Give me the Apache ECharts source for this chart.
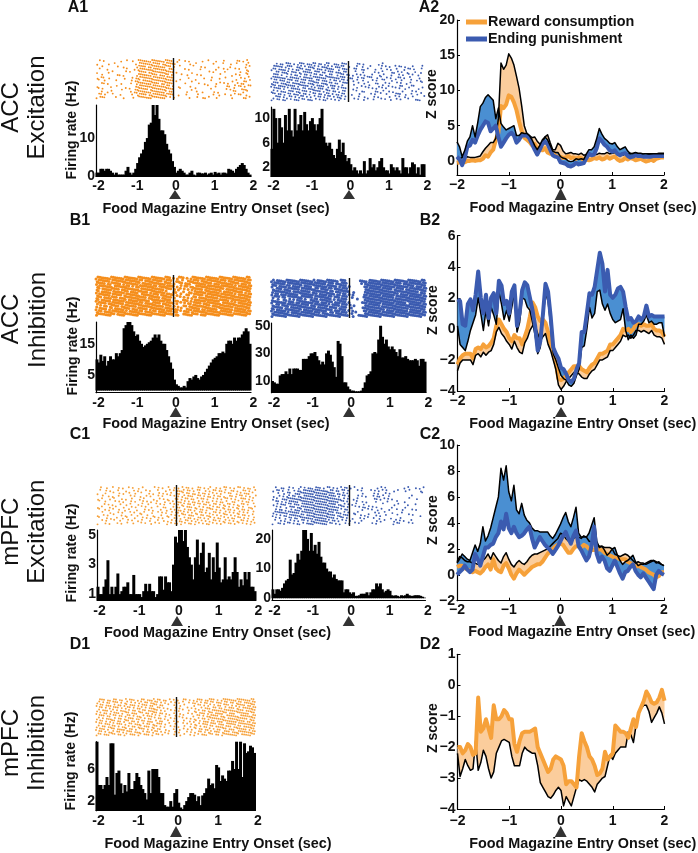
<!DOCTYPE html>
<html><head><meta charset="utf-8">
<style>html,body{margin:0;padding:0;background:#fff}#c{width:698px;height:853px}</style>
<script src="https://cdn.jsdelivr.net/npm/echarts@6/dist/echarts.min.js"></script>
</head><body><div id="c"></div>
<script>
// ---------- histogram values (Hz per 50 ms bin, -2 s to 2 s) ----------
const histA1L=[1,1,2,2,1.5,2,2,1.5,1,.5,1,.5,.5,.5,.5,1.5,2.5,1,.5,1,2,3.5,5,6,7,9,10,13.5,14,19,16,19,15,12,12,11,8.5,7,6,4,2.5,1,1.5,2,1.5,1,.5,.5,1,1.5,.5,.3,1,1,.8,.8,1,.5,.8,1,.5,1.2,.8,1,.5,1,1,.8,2,1.8,1.5,1,2,2.5,3,3.5,3,2,1,.5];
const histA1R=[5,11.5,10,6,10,8.5,6,10.5,8,11.5,8,7,11.5,8,9,10.5,8,11,9,8,9.5,10,9,8,9,10,11.5,7,6,5.5,6,5,4,3.5,5,6.5,4.5,6,4,3,3.5,2.5,1.5,2,1.5,1,1.5,1,3,1,1.5,3.5,2,2.5,1.5,2,3,3.5,2,1.5,1.5,1,2.5,2,1.5,2,1.5,1,3.5,2,2,1,2,2.8,2.5,1,2,.8,2.5,2.5];
const histB1L=[10,9,11.5,9.5,11,8,9.5,11,10,10,12,11,12,13,20,21,22,22,21,19,17.5,18,16,15,14,14.5,15,15.5,16,17,18,17,18,16,15,15,13,11,9,7,3.5,2,1.5,1,1,1.5,1,3,4,3.5,4.5,5,4,3.5,4.5,5,6,7,8,9,10,10.5,11,12,12,12.5,12,15,16,16,15,17,16,17,17,18,19,20,19,15];
const histB1R=[10,9,8,8,14,15,15,17,15,19,15,19,19,19,18,18,26,26,26,28,30,30,31,28,25,22,24,22,30,32,29,24,20,13,39,37,28,9,9,6,4,3,3,2.5,2.5,2.5,3,5,9,14,15,17,30,31,30,40,50,42,37,40,35,33,35,33,31,28,33,27,27,28,26,25,25,25,26,25,21,26,26,24];
const histC1L=[1.5,1,1,1.5,2,3.3,1,1.5,1,1.5,2.4,1,1.2,1.5,1.5,1.8,1,1,2.3,1,1,1,.8,1.2,1.7,1.2,1.7,1.2,1.2,.8,1,2.2,2.2,1.3,2.2,1.8,1.8,1.2,3,4.9,4.5,5.4,5.4,4.6,5.4,4.2,3.5,3,2,3.5,4.7,3,3.8,4.5,2.5,2.8,3.8,2,3.5,2.5,4.5,2.8,1.8,2,3.5,2,2.2,2,2.5,3.5,2.5,1.5,2,1.6,2.5,2,2.5,1.5,1.5,1.2];
const histC1R=[3,1.5,3,3,2.5,3.5,5,6,6.5,13,8,8.5,12,15,13,16,23,23,20,16,22,16,18,15,19,14,12,12,10,9,9,7,8,6.5,6,6,6,2,3,3,2,1.5,2,.8,.8,1,1.5,1.5,1.5,2,1,2,3,3,5,4,5,3,2,2.5,3,2.5,1,.8,1,.8,.5,1,.8,1,1.5,1,.8,.8,1,1,1,.8,.5,.2];
const histD1=[9.5,4,4,3.5,4,5,4,9.2,9.2,2.8,5.5,5.8,4.2,3,4,3.2,5.5,3.5,3.5,4.5,5.5,5,4,3.5,3,2.2,5.8,3,6,6,6,5,3,3,1.5,1.3,1.3,2,1.3,3,3.5,1.8,1.2,1,1.5,2,2.5,3,3,2.8,2,2.6,1.5,2.7,3,3.6,4.8,4,4.2,3.6,6.5,6.2,4.5,5.2,4.8,4.5,5.8,5.8,7,6,9.4,6,9.4,5,9.2,8,8.2,8.9,8.7,8];

// ---------- z score curves (81 samples, -2 s to 2 s) ----------
const a2OrangeMean=[-.3,-.2,-.1,-.2,0,0,.1,0,.1,.1,.3,.8,.6,1.2,1.6,3,4,7.8,7.5,8,9.3,9.1,8.3,7.2,5.6,4.2,3.3,3,2.7,2.2,2.4,1.8,1.6,1.5,1.8,1.2,1,1.1,.8,.6,.6,.4,.5,.7,.4,.5,.3,.5,.4,.1,.2,.1,.2,.4,.3,.5,.2,.3,.6,.3,.5,.6,.2,0,.1,.4,.2,.4,.3,.1,.2,.3,.1,-.1,0,.2,0,.3,.4,.5,.5];
const a2OrangeUpper=[.2,.3,.5,.5,.6,.5,.5,.5,.6,.7,1.3,1.8,2.2,2.6,2.6,3.2,6,13.9,13,13.6,15.2,14.6,13.6,12,10.3,7.8,5,3.9,3.6,3.3,3.4,2.8,2.4,2.6,3.4,3.7,2.6,1.6,1.6,2.5,2.2,1.4,1,1.1,1.2,1,1,.9,1.1,.8,.9,.8,1,1,.9,1.1,1,1,1.2,1,1.1,1.2,.9,.9,.8,1,.9,1.1,1,.9,1,1,.8,.7,.9,1,.9,1,1.1,1.1,1.1];
const a2BlueMean=[.6,.2,-.6,.4,2,2.2,3,2.6,3.6,4.4,5,5.6,5.4,4.2,4.6,5,3.4,2,2.6,3.2,3.7,4,3.6,2.6,3,3.6,3.6,3.6,3.2,2.4,1.6,.9,1.6,2.4,2.7,2.4,1.6,.8,.6,.5,-.2,-.3,-.4,-.7,-.8,-.6,-.3,-.5,-.4,-.3,.4,1,.8,.9,1.8,3.2,2.8,2.3,2,1.5,1.3,1.5,1,.8,1,1.1,.7,.5,.6,.8,.7,.7,.6,.6,.6,.6,.7,.7,.7,.7,.7];
const a2BlueUpper=[2.7,2,.6,1.5,2.8,3.4,5,3.4,5.4,7.7,8.2,9,9.4,9,8.6,6,7.5,5.3,4.8,4.4,4.6,4.8,5,3.6,3.6,4,3.9,3.9,3.6,3,2.2,1.6,2.2,3,3.4,3,2.2,1.4,1.2,1.2,.6,.4,.3,0,-.1,0,.3,.2,.3,.2,1,1.6,1.6,2,3.2,4.6,3.8,3.2,2.9,2.5,2.4,2.6,2,1.6,1.8,2,1.4,1,1.1,1.2,1.1,1.1,1,1,1,1,1,1,1,1,1];
const b2BlueThick=[1.9,1.8,.3,.2,1.6,1.9,1.2,2.2,3.7,2,1,2.2,.7,2,2.3,1,3.1,2.8,1.6,1.8,1,2.4,2.8,.2,1,2.5,3,2.8,2,1.2,.2,-1.4,-.8,.9,2.9,2.4,.8,-1.2,-1.6,-1.9,-2.5,-2.6,-2.9,-3.3,-3.4,-3.2,-2.6,-2.2,-.2,-.2,1,2.3,2.2,2.7,3.8,4.9,4.2,2.4,3.8,2.2,2,2.2,2.6,2.7,2.4,1.4,.6,.7,.4,.5,.8,.6,.8,1.5,.8,.9,.8,.8,.8,.8,.8];
const b2BlueLower=[.2,-1,-1.2,-1.4,-.8,-.1,.4,.9,2,1,-.1,1.2,.2,1.4,.9,.3,2.4,1.6,.6,1.2,.5,1.4,2.3,-.2,.4,2,1.9,1.4,1.2,.4,-.4,-1.6,-1.2,.6,2.3,1.8,.2,-1.6,-2,-2.5,-3,-3.2,-3.3,-3.6,-3.7,-3.5,-3,-2.6,-1.2,-1.1,0,1.4,.7,1,2.4,2.5,1.6,1.2,1.6,1,.6,.4,.5,.6,1.3,-.1,-.7,-.4,-.6,-.4,.3,.3,.5,.9,.4,.5,.3,.3,.4,.4,-.5];
const b2OrangeThick=[-2.3,-1.9,-1.7,-1.6,-1.6,-1.6,-1.9,-1.3,-1.2,-1.3,-1,-1.2,-1.1,-.9,-.6,.2,.6,.3,0,-.2,-.6,-.8,-.4,-.6,-.6,-1,-.5,0,.8,1.7,1.4,.8,.5,.6,.4,-.2,-1,-1.6,-2.2,-3.2,-3.3,-3.2,-3,-2.8,-2.6,-2.4,-2.4,-2.4,-2.6,-2.7,-2.8,-2.5,-2.3,-2.2,-1.9,-1.6,-1.6,-1.5,-1.4,-1,-1,-.8,-.6,-.4,0,-.1,0,-.2,0,.3,.3,.2,.3,.2,.2,.3,0,-.1,-.1,-.2,-.5];
const b2OrangeLower=[-2.7,-2.2,-2,-2,-2,-2,-2.3,-1.7,-1.6,-1.8,-1.5,-1.7,-1.5,-1.4,-1,-.2,.1,-.3,-.5,-.8,-1,-1.3,-.8,-1.2,-1.5,-1.6,-.9,-.6,-.1,.2,.2,-.3,-.8,-.5,-.3,-1,-1.4,-2,-2.6,-3.6,-3.9,-3.7,-3.4,-3.2,-3,-2.8,-2.8,-2.9,-3.1,-3.2,-3.2,-2.9,-2.7,-2.6,-2.3,-2,-2,-1.9,-1.8,-1.4,-1.4,-1.2,-1,-.8,-.4,-.5,-.4,-.6,-.4,-.1,-.1,-.2,-.1,-.2,-.3,-.1,-.4,-.5,-.5,-.6,-1];
const c2BlueThick=[0,.2,.4,.7,.4,.2,.4,1.6,1.2,.7,1.4,2.1,2.1,2.3,2.4,2.9,3.2,4.1,3.5,4.7,3.6,3.2,3.7,3.2,2.9,3,3.2,3.5,3.7,2.8,2.1,2.5,2.9,2.6,2.3,2.1,1.9,1.6,1.9,2.2,2.6,3,3.3,2.8,2.4,3,3.4,2.2,1.9,1.5,1.1,1.4,2.2,3.7,1.6,1,1.4,1.1,.5,.3,.7,1.1,.6,.1,-.3,.2,.3,.6,.8,.3,0,-.2,.1,-.2,-.5,-.8,-1.1,0,.3,.1,0];
const c2BlueUpper=[.9,1.2,1.6,1.4,1.2,1.1,1.7,2.3,1.8,2.4,3.7,2.6,3,3.6,4.4,5.2,6,8.2,7.3,8.4,6.4,5.7,6.9,5,4.7,5.5,4.6,4.2,4,3.6,3.4,3.4,3.3,3.3,3.3,3.3,3,2.8,3.1,3.5,3.9,4.4,4.8,4.1,3.7,4.4,5.2,3.2,2.9,2.9,2.9,3.2,3.8,4.4,2.6,2.1,2.2,1.9,1.5,1.7,2,2.1,1.5,1.1,.8,1,1.1,1.3,1.5,1,.7,.8,.8,.9,1,1.1,1.1,.9,1,.8,.7];
const c2OrangeThick=[.6,.7,.7,.5,.4,.3,.2,.3,.2,.1,.3,.6,.8,.4,1.2,.5,.3,.2,.7,.9,.5,0,-.3,.1,.4,.2,0,.2,.4,.6,.7,.8,.8,1,1.3,1.6,1.8,2,2.2,2.3,2.4,2.3,2,1.7,1.7,2,2.2,2.2,2.1,2.3,2.2,2,1.9,1.9,1.9,2,1.9,1.7,1.6,1.5,1.4,1.3,1.3,1.2,1.2,1.2,1,.9,.8,.6,.7,.6,.5,.4,.2,.1,0,-.2,-.1,.2,.2];
const c2OrangeUpper=[1,1.4,1.3,1.1,1,1,.9,.9,.8,.8,1.1,1.3,1.6,1.2,1.7,1.4,1.1,.9,1.4,1.7,1.2,.8,.6,.9,1.1,.9,.8,1,1.3,1.5,1.6,1.6,1.7,1.8,1.9,2,2.2,2.4,2.6,2.8,3.2,3.1,2.8,2.6,2.6,2.8,2.9,2.9,2.8,3,2.9,2.6,2.5,2.4,2.4,2.2,2.2,2.1,2.1,2.1,2,1.6,1.5,1.4,1.5,1.6,1.5,1.3,1.1,.9,1,.9,.9,.8,.9,1,1.1,1,.9,.8,.7];
const d2OrangeThick=[-2,-2,-2.2,-2.1,-1.9,-2,-2.25,-2.2,-.4,-1.5,-1.4,-1.1,-1.4,-1.7,-.65,-1.1,-1.1,-1,-.8,-.9,-1.1,-1.1,-1.9,-2.15,-1.8,-1.55,-1.5,-1.5,-1.5,-1.45,-1.4,-2,-2.2,-2.4,-2.6,-2.8,-2.7,-2.4,-2.3,-2.35,-2.4,-2.6,-3.2,-3.1,-3.1,-3.2,-3.3,-2.3,-1.55,-1.8,-2,-2.3,-2.4,-2.6,-2.9,-2.85,-2.7,-2.15,-2.4,-2.3,-2.2,-1.3,-1.4,-1.5,-1.5,-1.55,-1.7,-1.4,-1.1,-1.35,-.9,-.7,-.5,-.2,-.35,-.55,-.6,-.55,-.4,-.15,-.5];
const d2BlackLower=[-2.2,-2.95,-2.7,-2.4,-2.6,-2.75,-2.7,-1.8,-2.75,-2.5,-2.1,-2.3,-2.7,-3,-2.8,-2.2,-2,-1.8,-1.75,-1.8,-1.85,-2.3,-2.6,-2.6,-2.6,-2.2,-2,-2.1,-2.15,-2.2,-2.2,-2.6,-3.15,-3.3,-3.45,-3.6,-3.65,-3.55,-3.4,-3.3,-3.4,-3.9,-3.6,-3.75,-3.9,-3.6,-3.3,-3.05,-3.1,-3.05,-3.1,-3.2,-3.3,-3.45,-3.2,-3.1,-3,-2.95,-2.6,-2.25,-2.4,-2.2,-2.1,-2,-2,-2,-1.5,-1.6,-1.85,-1.3,-.9,-.75,-.65,-.65,-.85,-1.2,-1.05,-.9,-.7,-.9,-1.25];

// ---------- spike rasters: one string per trial, one character per 50 ms ----------
const rasterA1L=[
"..x.x........x..x..x..xxxxxxxxxxxxxxxxxx..xx..x.x......x..x...x...x......xx.x.x",
"x.....x..x..........x.xxxxxxxxxxx.xxxxxxx.......x..x........x....x...x..x....xx.",
"...x.......x..x......xxxxx.xxxxxxxxxxxx.x..x......x...x.x......x.....x.......x.x",
".x...x.........x...x.xxxxxxxxxxxxxxx.xxx.....x.x.....x.......x...x.x...x.x...x..",
"x.....x.x......x.x....xxxx.xxxxxxxxxxxxx.x.......x........x.x.....x.......x..xx.",
"...x.......xx.x......xxxxxxxxxxx.xxxxx.x....x..x....x.x.........x.....x.x.x...x.",
"x.xx..x.......x...x.xxxxxxxxxxxxxxxxxxxx.......x.......x...x...x..x.......x.x.x.",
".x..x.....x.......x.xxx.xxxxxxxxxxxxxxxx.x.x.....x.x.......x..........x.x...xx.x",
"...xx.x......x....x..xxxxxxxxxxxx.xxxxxx......x......x..x.....x.x.x.x....x.xx...",
"x......x..x.........xxxxxxxxxxxxxxxxxx.x..x.....x........x...x.....xx..x.xx.x.xx",
".x.x.........x.x.x..xxxxxxx.xxxxxxxxxxxx...x.....x.x.......x.......x.x.x...xxx..",
"...x..x.x.........x.xxxxxxxxxxxxxxxxx.xx.......x....x..x.....x.x.......xx...x.x.",
".xx.x...x...x.....x..xxxxx.xxxxxxxxxxxxx..x...x.....x.......x..x..x..x.x.xx..x..",
"x.xxx.....x...x....x..xxxxxxxxxxxxxxx.x.x.......x...x..xx.x...x.......x.....xx.x"];
const rasterA1R=[
"...x.xx.xxx.x.xxxx.xxxxx.xx.xxx..xxx.xxx.....xx.x.......x.x.....................",
".xxxxx.xxxx..xxx.x.xxxx.x.xxxx.x.xxxxx..x...x..x...x.....x.x.x..x.xx.x...x....x.",
"xxx.xxxx.x.x.xxxx.xxx.x.xxx.xxxxx..x.xxx...xx..xx.x...x..x..x.x..x...x.xx.x...x.",
"..xx.xxxx.xxx.x.xxxxx.xxx.xx.xxx.xxx.xx....x...x.....x.x.x....xx.x.x..x...x..x..",
".xxx.x..x.x.xx.x.xx.x.xx.xx.x.xx..x.xx.xx.x.x.x.x...x...x.x...x...x.x..x.x..x...",
"xxxxxxxxx.xxxxxx.xxxxxxxxxxxxxxxxxxxxxx.xxx..x.xx.xxx..x.x..x.x...xx.x..x....x..",
".xx.xxx.xxx.xx.xxx.xxx.xx.xxx.x.xx.xxx.x..x.x..x....x.x..xx...x.x..x....x..x.x..",
"xxxx.xxxxx.xxxxxxx.xxxxxx.xxx.xx.xx..xxx.....x..x.x...xx...x.x...x.x..x.x.....x.",
"xxx.xxxxxxxxx.xxxxxx.xx.xxxx.x.xxx.x.x.....x...x.x.x....x.x..x.x...xx....xx.....",
".xxxx.x.x.xxxxx.xx.xxxx.xxx.xx.xx.x.xxx...x.x.....x.x.x..x.x....x.x..x.x....x.x.",
"xx.x.xxx.xxx.xx.xxx.x.xxxx.x.xx.xx.x.xx.....x..xx.....xx..x..x.x....x....x.x....",
".xx.xx.x.xx.xxxx.xx.x.xx.xx.xxx.x.xx.xx...x...x.....x.x..x..x....xxx..x..x..x.x.",
"..xxx.x..xx.x.xxx.x.x.x.xx.x.xx.x.xxx.x......x..x....x.x.....x..x.x..x...x.....x",
"xx.xx.xxx.x.xxx.xx.xxx.x.x.xxx.x.x.xx.x....x.x..x.x..x...x.x..x..x.x...x...xxx.."];
const rasterB1L=[
"xxxxxxxxxxxxxxxxxxxxxxxxxxxxxxxxxxxxxxx.x.xxxx.x.xxxxxxxxxxxxxxxxxxxxxxxxxxxxxxx",
"xxxxxxx.xxxxxxxxxxxxxxxx.xxxxxxxxx.xxxx..xx.x..xxxxxx.xxxxxxxxxxxxx.xxxxxxxxxxxx",
"xxxxx.xxxxxxx.xxxxxxxxx.xxxxxxxxxxxxxxx.x..xx.xxx.xxxxxxxxxx.xxxxxxxxxxxxx.xxxxx",
"xxxxxxxx.xxxxxxxx.x.xxxxxxxxxxx.xxxxxxxx.x.x.xx.xx.xxxxxxxxxxxxxxxxxxxxx.xxxxxxx",
"xx.xxxxxxxxx.xxxxxxxxx.xxxxxxxxxxxx.xxx.x.xx.x.x.xxxxxx.xxxxxxxxxx.xxxxxxxxxxxxx",
"xx.xxxxx.xxxxxxxx.xxxxxxxxx.xxxxxxxxx...xx...x..xx.xxxxxxxxxxxxxx.xxxxxxxxxx.xxx",
"xxxxxxx.xxxxx.xxxxxxxx.xxxxxxxxx.xxxxxxx.x.x..xx..xxxxx.xxxxxxxxxxxxxxxx.xxxxxxx",
"xxx.xxxxxxx.xxxxxxxxxxxxxx.xxxxxx.xxxxx.x..x.x.x.xxx.xxxxxxxxxx.xxxxxxxxxxxxxxxx",
"xx.xxxxx.xxxxxxx.xxxxxxxxxxx.xxxxxxxxxx..xx..xxx.x.xxxxxxxxxxxxxxxxxx.xxxxxxxxxx",
"xxxxx.xxxxxxxx.xxxxxxxxx.xxxxxxxx.xxxxxx.x.x.x.xx.xxxx.xxxxxxxxx.xxxxxxx.xxxxxxx",
"x.x.xx.xxxxx.xxxxxxxx.xxxxxxxxxxxxx.xxx.x.x..xx.xxxxxxxxxxx.xxxxxxxxxxxxxxxxxxxx",
"x.xxxx.xx.xxxxxxxx.xxxxxxxx.xxxxxxxxxxxx.xx.x..xxxxxxx.xxxxxxxx.xxxxxxx.xxxxxxxx",
"xxx.xxxxxxxxxxxx.xxxxxxx.xxxxxx.xxxxxxx.xx.x.xxx.xxxxxxxxxxxxxxxxxxxxx.xxxxxxxxx",
"xxxxxxxxxx.xxxxxxxxxxxxxxxxxxxxxxxxxxxxx.xx..xxxxxxxx.xxxxxxxxxxxxxxxxxxxxxxxxxx"];
const rasterB1R=[
"xx.xxxxxxxxxxxxxxxxxxxx.xxxxxxxxxxx.xxx.......xxxx.xxxxxxxxxxxxxxxxxxxxxxxxxxxxx",
"xxxxxxx.xxxxxxxxxxxxxxxxxxxx.xxx.xxxxxx.......x.xxxxxxxxxxxxxxxxxxx.xxxxxxxxxxxx",
"xxx.xxxxxx.xxxxx.xxxx.xxxxxxxxxxxx.xxxx.x.......xxxxxxxxxxxxxxxxxxxxxxxxxx.xxxxx",
"x.xxx.xxxxxxxx.xxxxxxxxx.xxxxxx.xxxxxxx.........xxxxxxxxxxxxxx.xxxxx.xxxxxxxxxxx",
"xxxxxxxxxx.xxxxxxxxx.xxxxxxxx.xx.xxxxxxx..x.....xxxxxxxxxxxxxxxxxxxxxxxxxxxx.xxx",
"x.xx.xxxxxxxxx.xxxxxxxxx.xxxxxxxx.xx.xx.x.x.....xxxxxxxxxxxxxxxxxx.xxxxxxxxxxxxx",
"xxxx.xx.xxxxxxxxxxxxx.xxxxxxxxx.xxx.xxx..x.....xxxxxxxxxxxxxxxx.xxxxxxxxxxxxxxxx",
"x..x..xx.x.x.xxx.x..xxxx.xxxxxx.x.xxxxx.....x...xxxxxxxxxxxxxxxxxxxxxxxxxxxxxxxx",
"xxxxxxxx.xxx.xxxxxxxxxxxx.xxxxxx.xxxxxx.x......xxxxxxxxxxxxxxxxxxxxxxx.xxxxxxxxx",
"x.xx.xxxxxxxxxxxxxx.xxxxxxxxxx.xxxx.xxx.x.x.....xxxxxxxx.xxxxxxxxxxxxxxxxxxxxxxx",
"xxxxxx.xx.xxxxxxxxxxxxx.xxxxx.xxxx.xxxx..x.....xxxxxxxxxxxxxxxxxxxxxxxxxxxxxxxxx",
"xx.xxxxxxxxxxxxx.xxxxxxxxxxxxxxx.xxxxxx.x.x.....xxxxxxxxxxx.xxxxxxxxxxx.xxxxxxxx",
"xxxxxxxxx.xxxxxxxxxxxxxxx.xxx.xx.xxxxxx..x.x....xxxxxxxxxxxxxxxxxxxxxxxxxxxxxxxx",
"xxxxxxxxxxxxxxxxxxxxxxxxxxxxxxxxxxxxxxxx..x..xxxxxxxxxxxxxxxxxxxxxxxxxxxxxxxxxxx"];
const rasterC1L=[
"..x..x..x..x.x..x.x..x.x.....x.x.x..x..x.x.x.xx.x..xx.x.xx..x.x.xx.x.x.xx.x.xx.x",
".x..x.x...x...x...x.x...x.x...x...x.x.x.xxxx.xx.x.xx..x.x.xx.xx.x..xx.x..xx.x..x",
"x...x...x..x.x..x..x..x...x.x..x.x.x.x..xx.x.xx.xx.x.xx.x.x.x.x.x.xx..x.x.xxx.x.",
"..x..x.x..x.....x.x..x..x.x...x.x...x.x.x.xx.xxx..xx.x.xx.x.xx.x..xx.x.xx.x.x..x",
"x.x...x.x...x.x..x...x.x....x..x.x.x...xx.x.xx.xx.x.xx.x..x.x.x.xx.x.x..xxx.x.x.",
".x..x....x.x.x...x.x...x.x.x..x...x.x.x.xxx.x.x.xx.x.x.xx.x.x.xx.x..xx.x.x.xx.x.",
"...x.x.x...x..x.x...x.x..x...x.x.x..x.x.x.xx.xx.x.xx.xx.x.xx.x.x.xx.x.x.xx.x..x.",
"x.x...x..x...x...x.x..x.x..x..x..xx...x.xx.x.xxx.x.x.x.xx.x.xx.xx.x.x.xx.x..xx.x",
".x..x.x.x..x..x.x...x...x.x.x...x..x.x.x.xx.x.xx.xx.xx.x.xx.x.x.x.xx.x.x.xx.x.x.",
"..x...x...x.x...x.x..x.x...x..x.x.x..x.xx.xx.x.x.x.xx.x.x.xx.x.xx.x.x.xx.x.x..x.",
"x..x.x..x...x.x..x..x.x..x..x...x..x.x.x.x.xx.xxx.x.xx.xx.x.x.x.xx.x.x.x.xx.x.x.",
".x...x.x..x..x.x...x...x.x.x.x.x.x..x..xx.x.x.xx.x.xx.x.xx.x.xx.x.x.xx.xx.x.x..x",
"..x.x...x..x...x.x..x.x...x...x..x.x.x.x.xx.xx.x.xx.x.x.x.xx.x.xx.x.x.x.xx.x.xx.",
"x...x.x...x.x..x..x...x.x..x.x.x...x.x.xx.x.x.xx.x.x.x.xx.x.x.x.x.xx.x.x.x.x.x.x"];
const rasterC1R=[
"..x..xx..x.x..xx.x.xxx.xxx.x.xx.x.x.x.xx.x.x...x.......x.x.x.........x.x...x.x.x",
"x.xx.x..x..x.xx.xxxxxxxxxxxxx.xx.xx.xx.x....x.x....x.x.x.x.x...x.x...x.x.....x..",
"...x..x.xx..xxxxxxxxxxxxxxxxxxxxx.xx.x.x.......x.....x.x...x.x................x.",
"x..x.x.xx.xx.xx.xxxxxxxxxxxxxxxxx.x.xx.x....x.x.x...x.xx.x..x...........x.......",
"x.x..xxxxxxxxxxxxxxxxxxxxxxxxxxxxxxx.x.x..x.x........xx.x.x.x.x........x...x....",
"..xx.x.x.xxxxx.xxxxxxxxxxxxxxxxxxxx.xx.x....x..x.x....x.....x....x...x..........",
"x.x.xxx.xx.xxx.xxxxxxxxxxxxxxxxxx.xx.x.x.x.x...x.........x.....x.x....x...x.....",
"..x.x..x.xxx.xxxxxxxxxxxxxxxxxxxxxx.xx.x...x.x.xx.x.x.x.......x......x..........",
"..x.xx.x..x.xxxx.xxxxxxxxxxxxxxxxxx.x.xx.......x..x.x..x.x...x...x..x....x.x....",
"xxxxxxxxxxxxxx.xxxxxxxxxxxxxxxxx.xxx.x.x..x.x........x.x..x...x....x............",
"x.x.x.xx.xxxxxxxx.xxxxxxxxxxxxxxx.xx.xxx...x..x.x.x...x.x..x.....x.....x.x...x..",
"..x.x..x.xx.xx.xxxxxxxxxxxxxxxxxx.x.xx.x..x...x.x.x..x..x.....x....x............",
".x..x.x..x.x.x.xx.x.xxxxxxxxxx.xx.x.x.x.x.....x.......x.x.x....xx.x.x...x.......",
"x..xx.x.xx.x.xx.x.xxxxxxxxxxx.xx.x.x..x.x..x.x......x.x........x.xx....x.x......"];
const rasterD1=[
"..xxx.xx.xx.xx.x.xxx.x.xx.xxxx.xx.xx.x.x.x..xx.x.x.xxx.xxxxx.x.xxxxxxxxxxxxxxxxx",
"xx.x.xx.xxx.x.xx.x.x.xx.xx.xxxx.x.x..x.x.x.x..x.xxx.x.xx.xx.xxx.xx.xx.xxx.xxxxxx",
"x.xx.xxx.x.xx.xx.xxx.x.xxx.xxxx.xx..x..x..x.x....x.xx.x.xx.x.xx.xxx.x.xxxxx.xxxx",
".xx.x.x.xxx.x.xxx.x.xxx.x.xxx.xx.x.x...x.x...x.x.x..x.xxx.xx.xx.x.xxx.xx.xxxxxxx",
"xx.xxx.xx.x.xxx.x.xx.x.xx.xxxxx.x.x..x.x.x.x..x..x.x.xx.x.xxxxxxxxxxxxxxxx.xxxxx",
"x.x.xx.x.xxx.x.xx.xxx.xx.xx.xxx.xx.x...x..x...x.x.x.xxx.xxx.xxxxxx.xxx.xxxxxx.xx",
".xxx.xx.xx.xx.xxx.x.xx.x.xxx.x.x..x.x..x.x.x....x.xx.x.xxxxxx.xx.xxxxxx.xxxxxxxx",
"xx.x.xxx.x.xx.x.xxx.xxx.x.xx.x.xx.x..x.x...x.x.x.x.x.xx.xxxxxxxxx.xxxxxxxxxx.xxx",
"x.xx.x.xxx.xx.xxx.xx.x.xx.xxx.x.xx..x..x.x..x..x.xx.x.xxx.xx.xxxxxxxxxxxxxx.xxxx",
".xx.xxx.x.xxx.x.xx.xxx.x.xx.x.xxx.x.x..x...x.x.x.x.x.xxx.xxx.xxx.xxxxx.xxxxxxxxx",
"xx.xx.xxxx.x.xx.x.xx.xx.xxx.xxx.x.x..x.x.x..x..x.xx.x.xx.xx.xxxx.xxx.xxxx.xxxxxx",
"x.xxx.x.xx.xxxxx.xx.x.xxx.x.xx.xx..x...x..x.x.x.x.x.xx.xxx.x.xx.xx.xxx.xxxxx.xxx",
".xx.x.xxx.xx.x.xxx.xxx.x.xx.xxx.x.x.x..x.x...x.x.x.xx.x.xx.xxx.xxxx.xxxxxxxxxxxx",
"xxx.xxx.xx.xx.xx.xxx.xx.xxx.x.xx.x..x..x..x.x..x.x.x.xxx.xx.xx.xxxxxxxxx.xxxxxxx"];

// ---------- axis tick labels and text ----------
const xTickLabels=[-2,-1,0,1,2];
const yTicksA1L=[0,10], yTicksA1R=[2,6,10], yTicksB1L=[5,15], yTicksB1R=[10,30,50], yTicksC1L=[1,3,5], yTicksC1R=[0,10,20], yTicksD1=[2,6];
const zTicksA=[0,5,10,15,20], zTicksB=[-4,-2,0,2,4,6], zTicksC=[-2,0,2,4,6,8,10], zTicksD=[-4,-3,-2,-1,0,1];
const legendNames=["Reward consumption","Ending punishment"];
const xTitle="Food Magazine Entry Onset (sec)";

// ---------- colours ----------
const ORANGE="#f6a13a", DORANGE="#f58e1c", BLUE="#3b5bb0", FILLO="#fbcd9c", FILLB="#4a8fd2";
const FONT='"Liberation Sans",Arial,sans-serif';

const time81=Array.from({length:81},(_,i)=>-2+i*0.05);
const grid=[],xAxis=[],yAxis=[],series=[];

function addGrid(l,r,t,b){grid.push({left:l,top:t,width:r-l,height:b-t,containLabel:false});return grid.length-1;}

function addRaster(box,rows,color,size){
  const g=addGrid(box[0],box[1],box[2],box[3]);
  xAxis.push({gridIndex:g,type:'value',min:-2,max:2,show:false});
  yAxis.push({gridIndex:g,type:'value',min:-.5,max:rows.length+.5,show:false});
  const pts=[];
  // each dot sits in its read cell; the staggering inside the cell only breaks up the printed grid
  rows.forEach((row,r)=>{for(let c=0;c<row.length;c++)if(row[c]==='x')
    pts.push([-2+(c+.5)*.05+(((r*7)%11)/11-.5)*.05,rows.length-r-.5+(((c*13)%7)/7-.5)*.8]);});
  series.push({type:'scatter',xAxisIndex:g,yAxisIndex:g,data:pts,symbol:'circle',symbolSize:size,itemStyle:{color,opacity:1},silent:true,animation:false,
    markLine:{silent:true,symbol:'none',label:{show:false},animation:false,lineStyle:{color:'#111',width:1.4,type:'solid'},data:[{xAxis:0}]}});
}
function addHist(box,vals,yMin,yMax,ticks,margin){
  const g=addGrid(box[0],box[1],box[2],box[3]);
  xAxis.push({gridIndex:g,type:'value',min:-2,max:2,interval:1,splitLine:{show:false},axisTick:{show:false},
    axisLine:{show:true,onZero:false,lineStyle:{color:'#000',width:1.2}},
    axisLabel:{color:'#111',fontFamily:FONT,fontWeight:'bold',fontSize:14,margin,padding:[0,0,0,5],showMinLabel:true,showMaxLabel:true}});
  yAxis.push({gridIndex:g,type:'value',min:yMin,max:yMax,splitLine:{show:false},axisTick:{show:false},
    axisLine:{show:true,onZero:false,lineStyle:{color:'#000',width:1.2}},
    axisLabel:{color:'#111',fontFamily:FONT,fontWeight:'bold',fontSize:14,margin:1,customValues:ticks}});
  series.push({type:'bar',xAxisIndex:g,yAxisIndex:g,startValue:yMin,barWidth:3,silent:true,animation:false,itemStyle:{color:'#000'},
    data:vals.map((v,i)=>[-2+(i+.5)*.05,v])});
}
function addZ(box,yMin,yMax,ticks,margin){
  const g=addGrid(box[0],box[1],box[2],box[3]);
  const minus=v=>String(v).replace('-','\u2212');
  xAxis.push({gridIndex:g,type:'value',min:-2,max:2,interval:1,splitLine:{show:false},
    axisTick:{show:true,inside:true,length:3,lineStyle:{color:'#000',width:1}},
    axisLine:{show:true,onZero:false,lineStyle:{color:'#000',width:1.2}},
    axisLabel:{color:'#111',fontFamily:FONT,fontWeight:'bold',fontSize:14,margin,formatter:minus,showMinLabel:true,showMaxLabel:true}});
  yAxis.push({gridIndex:g,type:'value',min:yMin,max:yMax,splitLine:{show:false},
    axisTick:{show:true,inside:true,length:3,lineStyle:{color:'#000',width:1},customValues:ticks},
    axisLine:{show:true,onZero:false,lineStyle:{color:'#000',width:1.2}},
    axisLabel:{color:'#111',fontFamily:FONT,fontWeight:'bold',fontSize:14,margin:2,formatter:minus,customValues:ticks}});
  return g;
}
function addBand(g,a,b,fill){
  series.push({type:'custom',xAxisIndex:g,yAxisIndex:g,silent:true,animation:false,clip:true,data:[[0,0]],
    renderItem:(p,api)=>{
      const pts=[];
      time81.forEach((t,i)=>pts.push(api.coord([t,a[i]])));
      for(let i=80;i>=0;i--)pts.push(api.coord([time81[i],b[i]]));
      return {type:'polygon',shape:{points:pts},style:{fill}};
    }});
}
function addLine(g,vals,color,width,name){
  const s={type:'line',xAxisIndex:g,yAxisIndex:g,silent:true,animation:false,showSymbol:false,symbol:'none',clip:true,
    lineStyle:{color,width,join:'round'},itemStyle:{color},data:vals.map((v,i)=>[time81[i],v])};
  if(name)s.name=name;
  series.push(s);
}

// Row A
addRaster([96,251,58,100],rasterA1L,DORANGE,1.9);
addRaster([271,425,61,102],rasterA1R,BLUE,1.9);
addHist([96,251,105,176.5],histA1L,0,18.6,yTicksA1L,3);
addHist([271,425,107,176.5],histA1R,.5,11.8,yTicksA1R,3);
const gA=addZ([457,664,20,175],-2,20,zTicksA,3);
addBand(gA,a2OrangeMean,a2OrangeUpper,FILLO);
addBand(gA,a2BlueMean,a2BlueUpper,FILLB);
addLine(gA,a2OrangeMean,ORANGE,4,legendNames[0]);
addLine(gA,a2OrangeUpper,'#000',1.5);
addLine(gA,a2BlueMean,BLUE,4,legendNames[1]);
addLine(gA,a2BlueUpper,'#000',1.5);
// Row B
addRaster([96,251,275,317],rasterB1L,DORANGE,3);
addRaster([271.5,426,278,318],rasterB1R,BLUE,3);
addHist([96,251,322,392.7],histB1L,-.7,22,yTicksB1L,3);
addHist([271.5,426,323,392.7],histB1R,1.5,52,yTicksB1R,3);
const gB=addZ([457.5,664.5,235.7,391],-4,6,zTicksB,3);
addBand(gB,b2OrangeThick,b2OrangeLower,FILLO);
addBand(gB,b2BlueThick,b2BlueLower,FILLB);
addLine(gB,b2OrangeThick,ORANGE,4);
addLine(gB,b2OrangeLower,'#000',1.5);
addLine(gB,b2BlueLower,'#000',1.5);
addLine(gB,b2BlueThick,BLUE,4);
// Row C
addRaster([97,256,485,526],rasterC1L,ORANGE,1.9);
addRaster([272,425.5,485,526],rasterC1R,BLUE,1.9);
addHist([97,256,530,600],histC1L,.6,5.35,yTicksC1L,4);
addHist([272,425.5,530,600],histC1R,-.6,23,yTicksC1R,4);
const gC=addZ([457,664,445,600.7],-2,10,zTicksC,2);
addBand(gC,c2OrangeThick,c2OrangeUpper,FILLO);
addBand(gC,c2BlueThick,c2BlueUpper,FILLB);
addLine(gC,c2OrangeThick,ORANGE,4);
addLine(gC,c2OrangeUpper,'#000',1.5);
addLine(gC,c2BlueUpper,'#000',1.5);
addLine(gC,c2BlueThick,BLUE,4);
// Row D
addRaster([96,255.5,697,737],rasterD1,ORANGE,1.9);
addHist([96,255.5,741.7,810.7],histD1,.8,9.4,yTicksD1,3);
const gD=addZ([457.5,664.5,654.3,809],-4,1,zTicksD,5);
addBand(gD,d2OrangeThick,d2BlackLower,FILLO);
addLine(gD,d2BlackLower,'#000',1.5);
addLine(gD,d2OrangeThick,ORANGE,4);

// ---------- free text and onset markers ----------
const gr=[];
function txt(s,x,y,size,weight,rot){
  gr.push({type:'text',x,y,rotation:rot?Math.PI/2:0,silent:true,
    style:{text:s,x:0,y:0,align:'center',verticalAlign:'middle',fill:'#111',font:`${weight} ${size}px ${FONT}`}});
}
[["ACC",11,107.5],["Excitation",37,107.5],["ACC",11,319],["Inhibition",38,320],["mPFC",11,531.7],["Excitation",37,531.7],["mPFC",11,743],["Inhibition",37,743]]
 .forEach(a=>txt(a[0],a[1],a[2],24,'normal',true));
[[72,130],[73,346],[72,553],[71,761]].forEach(a=>txt("Firing rate (Hz)",a[0],a[1],14,'bold',true));
[[432,94],[433,310],[433,520],[433,728]].forEach(a=>txt("Z score",a[0],a[1],14,'bold',true));
[[216,209],[583,208],[216,424],[582.7,424],[217.5,632.7],[581.7,631.7],[218,844],[582.7,844]].forEach(a=>txt(xTitle,a[0],a[1],14.4,'bold'));
[["A1",78,8],["A2",429,8],["B1",80,221],["B2",430,221],["C1",80,435],["C2",430,435],["D1",80,645],["D2",430,645]].forEach(a=>txt(a[0],a[1],a[2],16,'bold'));
[[175,190,199],[349,190,199],[560.7,188,200],[175.7,407,417],[349,407,417],[561,407,417],[177,616,626],[348.7,616,626],[560,615,626],[176,826,837],[560.7,826,837]]
 .forEach(a=>gr.push({type:'polygon',silent:true,shape:{points:[[a[0],a[1]],[a[0]-6,a[2]],[a[0]+6,a[2]]]},style:{fill:'#333'}}));

const chart=echarts.init(document.getElementById('c'),null,{renderer:'canvas'});
chart.setOption({
  animation:false,backgroundColor:'#fff',grid,xAxis,yAxis,series,graphic:gr,
  legend:{data:legendNames,left:466,top:15,orient:'vertical',itemWidth:21,itemHeight:5,itemGap:3,icon:'rect',selectedMode:false,padding:0,
    textStyle:{color:'#111',fontFamily:FONT,fontWeight:'bold',fontSize:14.4,padding:[0,0,0,-4]}}
});
</script></body></html>
